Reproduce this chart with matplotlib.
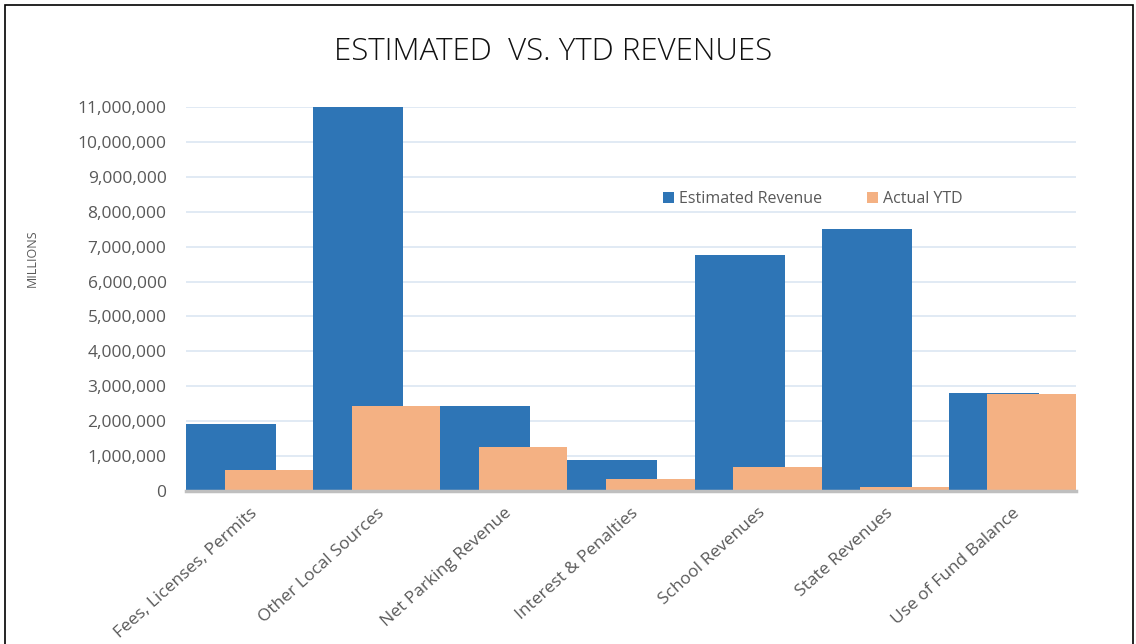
import matplotlib
matplotlib.use("Agg")
from matplotlib import pyplot as plt
from matplotlib.patches import Rectangle
import numpy as np

# chart data
categories = ["Fees, Licenses, Permits", "Other Local Sources", "Net Parking Revenue",
              "Interest & Penalties", "School Revenues", "State Revenues", "Use of Fund Balance"]
estimated = [1920000, 11000000, 2440000, 890000, 6760000, 7510000, 2810000]
actual_ytd = [600000, 2440000, 1260000, 340000, 690000, 110000, 2780000]
y_ticks = list(range(0, 11000001, 1000000))

blue = "#2E75B6"
orange = "#F4B183"
gray_text = "#595959"

plt.rcParams['font.family'] = ['Open Sans', 'DejaVu Sans']

fig = plt.figure(figsize=(11.36, 6.44), dpi=100)
ax = fig.add_axes([186/1136, 1 - 491/644, 890/1136, 384/644])

x = np.arange(len(categories))
w_blue = 0.708
offset = 0.303
ax.bar(x - 0.5, estimated, width=w_blue, align='edge', color=blue, zorder=2,
       label="Estimated Revenue")
ax.bar(x - 0.5 + offset, actual_ytd, width=1 - offset, align='edge', color=orange, zorder=3,
       label="Actual YTD")

ax.set_xlim(-0.5, len(categories) - 0.5)
ax.set_ylim(0, 11000000)
ax.set_yticks(y_ticks)
ax.set_yticklabels([f"{v:,}" for v in y_ticks], fontsize=12.5, color=gray_text)
ax.set_xticks(x)
ax.set_xticklabels(categories, rotation=42, ha='right', rotation_mode='anchor',
                   fontsize=12.5, color=gray_text)
ax.tick_params(axis='y', length=0, pad=14)
ax.tick_params(axis='x', length=0, pad=10)

ax.grid(axis='y', color="#DCE6F2", linewidth=1.2, zorder=0)
ax.set_axisbelow(True)
for s in ["top", "right", "left"]:
    ax.spines[s].set_visible(False)
ax.spines["bottom"].set_color("#BFBFBF")
ax.spines["bottom"].set_linewidth(2.5)
ax.spines["bottom"].set_zorder(4)

fig.text(32/1136, 1 - 258/644, "MILLIONS", rotation=90, ha='center', va='center',
         fontsize=9, color=gray_text)
fig.text(553/1136, 1 - 52/644, "ESTIMATED  VS. YTD REVENUES", ha='center', va='center',
         fontsize=22.5, color="#111111", fontweight='light')

ax.legend(loc='center left', bbox_to_anchor=(0.52, 0.76), ncol=2, frameon=False,
          fontsize=11.5, labelcolor=gray_text, handlelength=0.7, handleheight=0.7,
          columnspacing=2.8, handletextpad=0.3)

fig.patches.append(Rectangle((5/1136, -0.01), 1128/1136, 1 - 5/644 + 0.01,
                             transform=fig.transFigure, fill=False,
                             edgecolor="black", linewidth=1.2))

fig.savefig("out.png", dpi=100)
